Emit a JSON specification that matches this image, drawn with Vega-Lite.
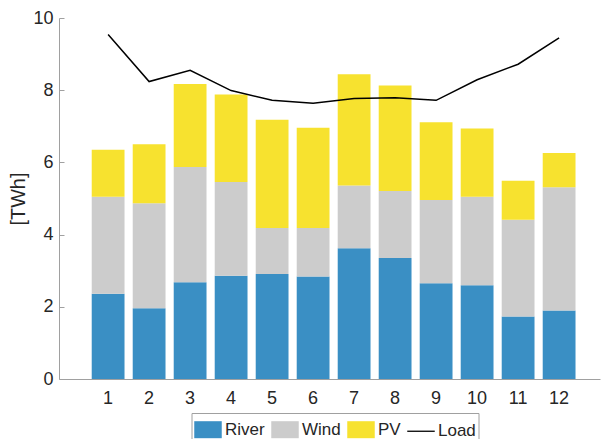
{
  "$schema": "https://vega.github.io/schema/vega-lite/v6.json",
  "width": 541,
  "height": 361,
  "autosize": {"type": "none"},
  "padding": {"left": 59, "top": 18, "right": 4, "bottom": 60},
  "background": "white",
  "config": {
    "font": "Liberation Sans",
    "view": {"stroke": null},
    "axis": {
      "domainColor": "#a0a0a0",
      "tickColor": "#a0a0a0",
      "labelColor": "#262626",
      "titleColor": "#262626",
      "labelFont": "Liberation Sans",
      "titleFont": "Liberation Sans",
      "labelFontSize": 18,
      "grid": false
    }
  },
  "datasets": {
    "gen": [
      {"month": 1, "source": "River", "rank": 1, "value": 2.36},
      {"month": 1, "source": "Wind", "rank": 2, "value": 2.69},
      {"month": 1, "source": "PV", "rank": 3, "value": 1.30},
      {"month": 2, "source": "River", "rank": 1, "value": 1.96},
      {"month": 2, "source": "Wind", "rank": 2, "value": 2.91},
      {"month": 2, "source": "PV", "rank": 3, "value": 1.63},
      {"month": 3, "source": "River", "rank": 1, "value": 2.68},
      {"month": 3, "source": "Wind", "rank": 2, "value": 3.19},
      {"month": 3, "source": "PV", "rank": 3, "value": 2.30},
      {"month": 4, "source": "River", "rank": 1, "value": 2.86},
      {"month": 4, "source": "Wind", "rank": 2, "value": 2.60},
      {"month": 4, "source": "PV", "rank": 3, "value": 2.42},
      {"month": 5, "source": "River", "rank": 1, "value": 2.91},
      {"month": 5, "source": "Wind", "rank": 2, "value": 1.27},
      {"month": 5, "source": "PV", "rank": 3, "value": 3.00},
      {"month": 6, "source": "River", "rank": 1, "value": 2.84},
      {"month": 6, "source": "Wind", "rank": 2, "value": 1.34},
      {"month": 6, "source": "PV", "rank": 3, "value": 2.78},
      {"month": 7, "source": "River", "rank": 1, "value": 3.62},
      {"month": 7, "source": "Wind", "rank": 2, "value": 1.74},
      {"month": 7, "source": "PV", "rank": 3, "value": 3.08},
      {"month": 8, "source": "River", "rank": 1, "value": 3.35},
      {"month": 8, "source": "Wind", "rank": 2, "value": 1.86},
      {"month": 8, "source": "PV", "rank": 3, "value": 2.92},
      {"month": 9, "source": "River", "rank": 1, "value": 2.65},
      {"month": 9, "source": "Wind", "rank": 2, "value": 2.31},
      {"month": 9, "source": "PV", "rank": 3, "value": 2.15},
      {"month": 10, "source": "River", "rank": 1, "value": 2.60},
      {"month": 10, "source": "Wind", "rank": 2, "value": 2.45},
      {"month": 10, "source": "PV", "rank": 3, "value": 1.89},
      {"month": 11, "source": "River", "rank": 1, "value": 1.73},
      {"month": 11, "source": "Wind", "rank": 2, "value": 2.68},
      {"month": 11, "source": "PV", "rank": 3, "value": 1.08},
      {"month": 12, "source": "River", "rank": 1, "value": 1.90},
      {"month": 12, "source": "Wind", "rank": 2, "value": 3.41},
      {"month": 12, "source": "PV", "rank": 3, "value": 0.95}
    ],
    "load": [
      {"month": 1, "load": 9.54},
      {"month": 2, "load": 8.24},
      {"month": 3, "load": 8.55},
      {"month": 4, "load": 7.99},
      {"month": 5, "load": 7.72},
      {"month": 6, "load": 7.64},
      {"month": 7, "load": 7.77},
      {"month": 8, "load": 7.79},
      {"month": 9, "load": 7.72},
      {"month": 10, "load": 8.29},
      {"month": 11, "load": 8.72},
      {"month": 12, "load": 9.45}
    ]
  },
  "layer": [
    {
      "data": {"name": "gen"},
      "mark": {"type": "bar"},
      "encoding": {
        "x": {
          "field": "month",
          "type": "ordinal",
          "scale": {"paddingInner": 0.2, "paddingOuter": 0.6976, "align": 0.572},
          "axis": {"title": null, "labelAngle": 0, "ticks": false, "labelPadding": 10}
        },
        "y": {
          "field": "value",
          "type": "quantitative",
          "stack": "zero",
          "scale": {"domain": [0, 10], "nice": false},
          "axis": {
            "title": "[TWh]",
            "titleFontSize": 19.8,
            "titleFontWeight": "normal",
            "titlePadding": 4,
            "values": [0, 2, 4, 6, 8, 10],
            "tickSize": -5,
            "labelPadding": 11
          }
        },
        "order": {"field": "rank", "type": "quantitative", "sort": "ascending"},
        "color": {
          "field": "source",
          "type": "nominal",
          "sort": ["River", "Wind", "PV", "Load"],
          "scale": {
            "domain": ["River", "Wind", "PV", "Load"],
            "range": ["#3a8fc4", "#cccccc", "#f7e22f", "#000000"]
          },
          "legend": {
            "orient": "none",
            "legendX": 132.5,
            "legendY": 395,
            "direction": "horizontal",
            "columns": 4,
            "title": null,
            "strokeColor": "#a0a0a0",
            "fillColor": "white",
            "padding": 2,
            "symbolType": "M-1,-0.618H1V0.618H-1Z",
            "symbolSize": 756,
            "symbolStrokeWidth": 0,
            "labelFont": "Liberation Sans",
            "labelFontSize": 17,
            "labelColor": "#262626",
            "labelOffset": 2.5,
            "columnPadding": 3,
            "encode": {
              "symbols": {
                "update": {
                  "shape": [
                    {"test": "datum.value === 'Load'", "value": "M-1,0H1"},
                    {"value": "M-1,-0.618H1V0.618H-1Z"}
                  ],
                  "fill": [
                    {"test": "datum.value === 'Load'", "value": "transparent"},
                    {"test": "datum.value === 'River'", "value": "#3a8fc4"},
                    {"test": "datum.value === 'Wind'", "value": "#cccccc"},
                    {"value": "#f7e22f"}
                  ],
                  "stroke": [
                    {"test": "datum.value === 'Load'", "value": "#000000"},
                    {"value": "transparent"}
                  ],
                  "strokeWidth": {"value": 1.3},
                  "opacity": {"value": 1}
                }
              }
            }
          }
        }
      }
    },
    {
      "data": {"name": "load"},
      "mark": {"type": "line", "color": "#000000", "strokeWidth": 1.5},
      "encoding": {
        "x": {"field": "month", "type": "ordinal"},
        "y": {"field": "load", "type": "quantitative"}
      }
    }
  ]
}
